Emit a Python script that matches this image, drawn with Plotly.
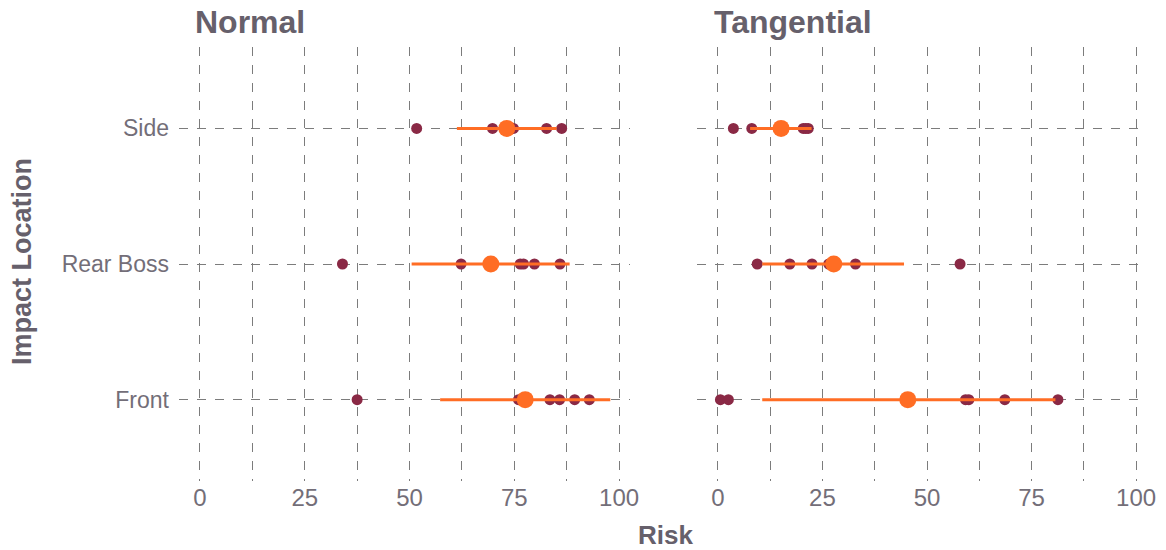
import plotly.graph_objects as go

# Impact locations (bottom to top)
locations = ["Front", "Rear Boss", "Side"]

# Individual risk values per impact location
normal_front = [37.5, 76.0, 83.5, 85.8, 89.4, 92.9]
normal_rear = [34.0, 62.3, 76.4, 77.2, 79.8, 85.9]
normal_side = [51.7, 69.8, 74.8, 82.7, 86.3]

tang_front = [0.6, 2.5, 59.2, 60.0, 68.6, 81.3]
tang_rear = [9.4, 17.2, 22.5, 26.5, 32.9, 57.9]
tang_side = [3.7, 8.1, 20.4, 21.0, 21.6]

# Summary: mean and interval ends (Front, Rear Boss, Side)
normal_mean = [77.6, 69.4, 73.2]
normal_lo = [57.3, 50.5, 61.3]
normal_hi = [97.9, 88.2, 85.1]

tang_mean = [45.4, 27.7, 15.1]
tang_lo = [10.6, 10.6, 7.7]
tang_hi = [80.7, 44.5, 22.4]

x_ticks = [0, 25, 50, 75, 100]

DOT = "#8a2945"
ORANGE = "#ff6d24"
TEXT = "#66606b"
TICK = "#736e78"
GRID = "#7c7c7c"
FONT = "Liberation Sans"

W, H = 1166, 550

fig = go.Figure()


def add_panel(groups, mean, lo, hi, xa, ya):
    xs, ys = [], []
    for k, vals in enumerate(groups):
        xs += vals
        ys += [k + 1] * len(vals)
    fig.add_trace(go.Scatter(
        x=xs, y=ys, mode="markers", xaxis=xa, yaxis=ya,
        marker=dict(color=DOT, size=11, line=dict(width=0)),
        showlegend=False, hoverinfo="x+y"))
    cats = [1, 2, 3]
    fig.add_trace(go.Scatter(
        x=mean, y=cats, mode="markers", xaxis=xa, yaxis=ya,
        marker=dict(color=ORANGE, size=17, line=dict(width=0)),
        error_x=dict(type="data", symmetric=False,
                     array=[h - m for h, m in zip(hi, mean)],
                     arrayminus=[m - l for m, l in zip(mean, lo)],
                     color=ORANGE, thickness=3, width=0),
        showlegend=False, hoverinfo="x+y"))


add_panel([normal_front, normal_rear, normal_side],
          normal_mean, normal_lo, normal_hi, "x", "y")
add_panel([tang_front, tang_rear, tang_side],
          tang_mean, tang_lo, tang_hi, "x2", "y2")

xaxis_common = dict(
    range=[-5.0, 102.6], tickvals=x_ticks, ticktext=[str(v) for v in x_ticks],
    showgrid=True, gridcolor=GRID, gridwidth=1, griddash="dash",
    minor=dict(tick0=12.5, dtick=25, showgrid=True, gridcolor=GRID,
               gridwidth=1, griddash="dash"),
    zeroline=False, showline=False, ticks="", ticklen=0, automargin=False,
    tickfont=dict(family=FONT, size=24, color=TICK), fixedrange=True,
)
yaxis_common = dict(
    range=[0.4, 3.6], tickvals=[1, 2, 3], ticktext=locations,
    showgrid=True, gridcolor=GRID, gridwidth=1, griddash="dash",
    zeroline=False, showline=False, ticks="", ticklen=0, automargin=False,
    tickfont=dict(family=FONT, size=23, color=TICK), fixedrange=True,
)

fig.update_layout(
    width=W, height=H, autosize=False,
    margin=dict(l=0, r=0, t=0, b=0, pad=0),
    paper_bgcolor="white", plot_bgcolor="white",
    xaxis=dict(domain=[179 / W, 630 / W], anchor="y", **xaxis_common),
    xaxis2=dict(domain=[697 / W, 1147 / W], anchor="y2", **xaxis_common),
    yaxis=dict(domain=[1 - 481 / H, 1 - 47 / H], anchor="x",
               ticklabelstandoff=9, **yaxis_common),
    yaxis2=dict(domain=[1 - 481 / H, 1 - 47 / H], anchor="x2",
                showticklabels=False, **yaxis_common),
    annotations=[
        dict(text="<b>Normal</b>", x=193 / W, y=1 - 22 / H,
             xref="paper", yref="paper", xanchor="left", yanchor="middle",
             showarrow=False, font=dict(family=FONT, size=32, color=TEXT)),
        dict(text="<b>Tangential</b>", x=712 / W, y=1 - 22 / H,
             xref="paper", yref="paper", xanchor="left", yanchor="middle",
             showarrow=False, font=dict(family=FONT, size=32, color=TEXT)),
        dict(text="<b>Risk</b>", x=665 / W, y=1 - 535 / H,
             xref="paper", yref="paper", xanchor="center", yanchor="middle",
             showarrow=False, font=dict(family=FONT, size=26, color=TEXT)),
        dict(text="<b>Impact Location</b>", x=22 / W, y=1 - 262 / H,
             xref="paper", yref="paper", xanchor="center", yanchor="middle",
             textangle=-90, showarrow=False,
             font=dict(family=FONT, size=27, color=TEXT)),
    ],
)

fig.write_html("out.html")
